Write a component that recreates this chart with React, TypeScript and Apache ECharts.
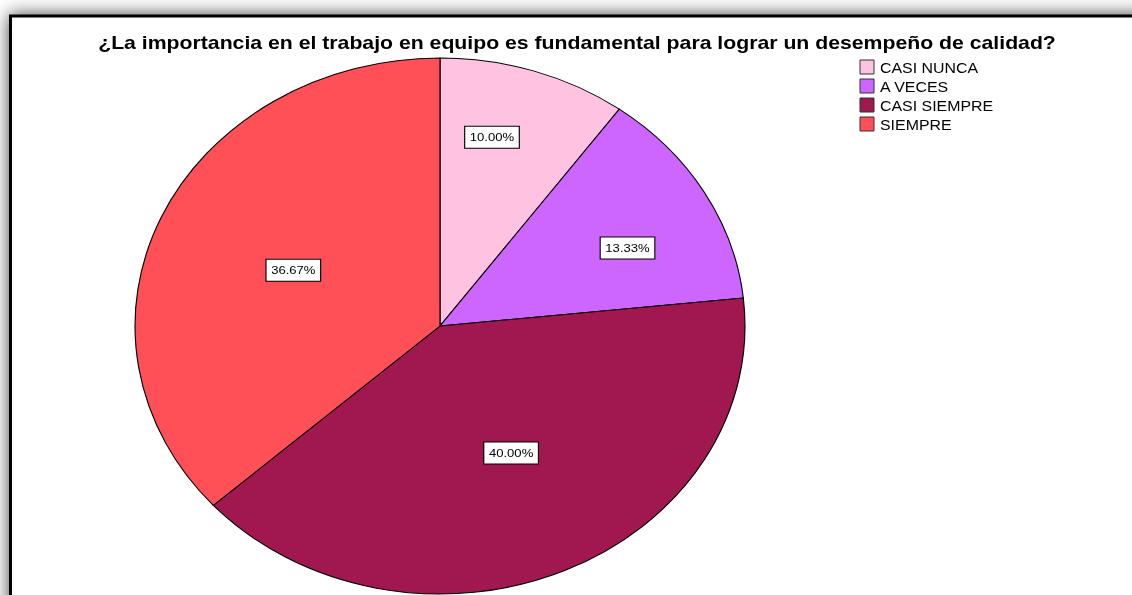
import React, { useEffect, useRef } from "react";
import * as echarts from "echarts";

const title = "¿La importancia en el trabajo en equipo es fundamental para lograr un desempeño de calidad?";
const categories = ["CASI NUNCA", "A VECES", "CASI SIEMPRE", "SIEMPRE"];
const values = [3, 4, 12, 11];
const colors = ["#FFC2E0", "#CC66FF", "#A0184F", "#FF5058"];
// placement of each percentage label, as in the original:
// radial fraction of the radius and angular shift (degrees) from the slice's mid-angle
const labelRadius = [0.725, 0.68, 0.528, 0.524];
const labelAngleShift = [-4.4, 4.7, -2.2, -0.6];

const FONT = "Arial, 'Liberation Sans', sans-serif";
const SX = 305 / 268; // horizontal stretch of the original picture

export default function App() {
  const ref = useRef<HTMLDivElement>(null);
  useEffect(() => {
    if (!ref.current) return;
    const chart = echarts.init(ref.current, null, { renderer: "svg" });
    const total = values.reduce((a, b) => a + b, 0);
    const cum: number[] = [];
    values.reduce((acc, v, i) => {
      cum[i] = acc;
      return acc + v;
    }, 0);

    const cx = 440;
    const cy = 326;
    const r = 268;

    const graphic: any[] = [
      {
        type: "rect",
        z: -10,
        shape: { x: 10.5, y: 16, width: 1200, height: 700 },
        style: {
          fill: "#fff",
          stroke: "#000",
          lineWidth: 3,
          shadowBlur: 18,
          shadowColor: "rgba(0,0,0,0.75)",
        },
      },
      {
        type: "text",
        x: 577,
        y: 43,
        scaleX: 1.18,
        z: 100,
        style: {
          text: title,
          font: `bold 18px ${FONT}`,
          fill: "#000",
          align: "center",
          verticalAlign: "middle",
        },
      },
    ];
    categories.forEach((c, i) => {
      graphic.push({
        type: "rect",
        z: 100,
        shape: { x: 860, y: 60 + 19 * i, width: 14, height: 14 },
        style: { fill: colors[i], stroke: "#333", lineWidth: 1 },
      });
      graphic.push({
        type: "text",
        x: 880,
        y: 67.5 + 19 * i,
        scaleX: SX,
        z: 100,
        style: {
          text: c,
          font: `14px ${FONT}`,
          fill: "#000",
          align: "left",
          verticalAlign: "middle",
        },
      });
    });

    chart.setOption({
      animation: false,
      graphic,
      series: [
        {
          type: "custom",
          coordinateSystem: "none",
          data: values.map((v, i) => ({ value: v, name: categories[i] })),
          renderItem: (params: any, api: any) => {
            const i = params.dataIndex;
            const v = api.value(0);
            const start = -Math.PI / 2 + (cum[i] / total) * Math.PI * 2;
            const end = start + (v / total) * Math.PI * 2;
            const mid = (start + end) / 2 + (labelAngleShift[i] * Math.PI) / 180;
            const f = labelRadius[i];
            const lx = cx + Math.cos(mid) * r * f * SX;
            const ly = cy + Math.sin(mid) * r * f;
            return {
              type: "group",
              children: [
                {
                  type: "sector",
                  x: cx,
                  y: cy,
                  scaleX: SX,
                  shape: { cx: 0, cy: 0, r, r0: 0, startAngle: start, endAngle: end, clockwise: true },
                  style: { fill: colors[i], stroke: "#000", lineWidth: 1, strokeNoScale: true },
                },
                {
                  type: "text",
                  x: lx,
                  y: ly,
                  scaleX: SX,
                  z2: 10,
                  style: {
                    text: ((v / total) * 100).toFixed(2) + "%",
                    font: `11.5px ${FONT}`,
                    fill: "#000",
                    align: "center",
                    verticalAlign: "middle",
                    backgroundColor: "#fff",
                    borderColor: "#000",
                    borderWidth: 1,
                    padding: [5, 4, 4, 4],
                  },
                },
              ],
            };
          },
        },
      ],
    });
    return () => chart.dispose();
  }, []);
  return <div ref={ref} style={{ position: "fixed", left: 0, top: 0, width: 1132, height: 595 }} />;
}
